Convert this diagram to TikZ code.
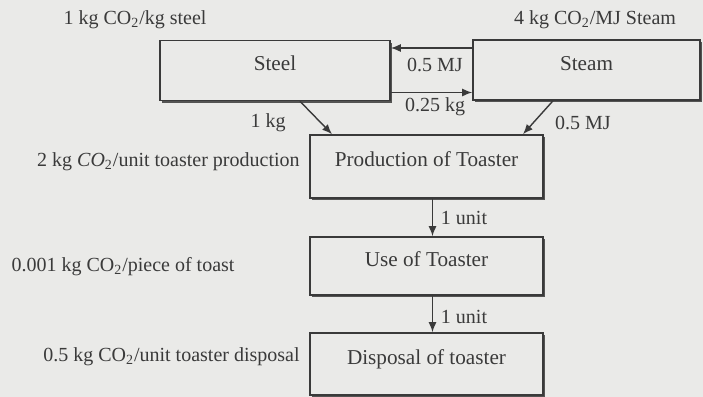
\documentclass[tikz,border=0pt]{standalone}
\usepackage{fontspec}
\setmainfont{Liberation Serif}
\usetikzlibrary{arrows.meta, positioning, calc, shadows}
\definecolor{paperGrey}{HTML}{EAEAE8}
\definecolor{inkDark}{HTML}{3A3A3A}

\begin{document}
\begin{tikzpicture}[
    x=0.5pt, y=-0.5pt,
    box/.style={rectangle, draw=inkDark, fill=paperGrey, line width=0.8pt,
                minimum width=#1, minimum height=30pt,
                text height=7pt, text depth=7pt,
                font=\fontsize{10.6}{12}\selectfont\color{inkDark},
                drop shadow={shadow xshift=1.2pt, shadow yshift=-1.2pt,
                             fill=inkDark, opacity=0.85}},
    flow/.style={-{Latex[length=5pt, width=4pt]}, draw=inkDark, line width=0.7pt},
    lbl/.style={font=\fontsize{10}{12}\selectfont\color{inkDark}, inner sep=1pt},
  ]
    \fill[paperGrey] (0,0) rectangle (703,397);
    \useasboundingbox (0,0) rectangle (703,397);

    % Inputs
    \node[box=115pt] (steel) at (275,70.5) {Steel};
    \node[box=113.5pt] (steam) at (586.5,70) {Steam};

    % Life cycle
    \node[box=116.5pt, minimum height=31.5pt] (prod) at (426.5,166.5) {Production of Toaster};
    \node[box=116.5pt, minimum height=29pt] (use) at (426.5,266) {Use of Toaster};
    \node[box=116.5pt, minimum height=31pt] (disp) at (426.5,364) {Disposal of toaster};

    % Flows
    \draw[flow] ([yshift=11pt]steam.west) -- ([yshift=11pt]steam.west -| steel.east);
    \draw[flow] ([yshift=-11pt]steel.east) -- ([yshift=-11pt]steel.east -| steam.west);
    \draw[flow] ($(steel.south)+(25,0)$) -- ($(prod.north)+(-94.5,0)$);
    \draw[flow] ($(steam.south)+(-33.5,0)$) -- ($(prod.north)+(96.5,0)$);
    \draw[flow] ([xshift=3pt]prod.south) -- ([xshift=3pt]use.north);
    \draw[flow] ([xshift=3pt]use.south) -- ([xshift=3pt]disp.north);

    % Flow amounts
    \node[lbl] (mjBack) at (435,65) {0.5 MJ};
    \node[lbl] (kgFwd) at (435,107) {0.25 kg};
    \node[lbl] (kgSteel) at (268,123) {1 kg};
    \node[lbl] (mjSteam) at (583,123) {0.5 MJ};
    \node[lbl] (unitUse) at (464,218) {1 unit};
    \node[lbl] (unitDisp) at (464,317) {1 unit};

    % Emission factors
    \node[lbl] (efSteel) at (135,20) {1 kg CO\textsubscript{2}/kg steel};
    \node[lbl] (efSteam) at (595,20) {4 kg CO\textsubscript{2}/MJ Steam};
    \node[lbl, anchor=east] (efProd) at (302,162) {2 kg \textit{CO}\textsubscript{2}/unit toaster production};
    \node[lbl] (efUse) at (123,267) {0.001 kg CO\textsubscript{2}/piece of toast};
    \node[lbl, anchor=east] (efDisp) at (302,357) {0.5 kg CO\textsubscript{2}/unit toaster disposal};
  \end{tikzpicture}
\end{document}
